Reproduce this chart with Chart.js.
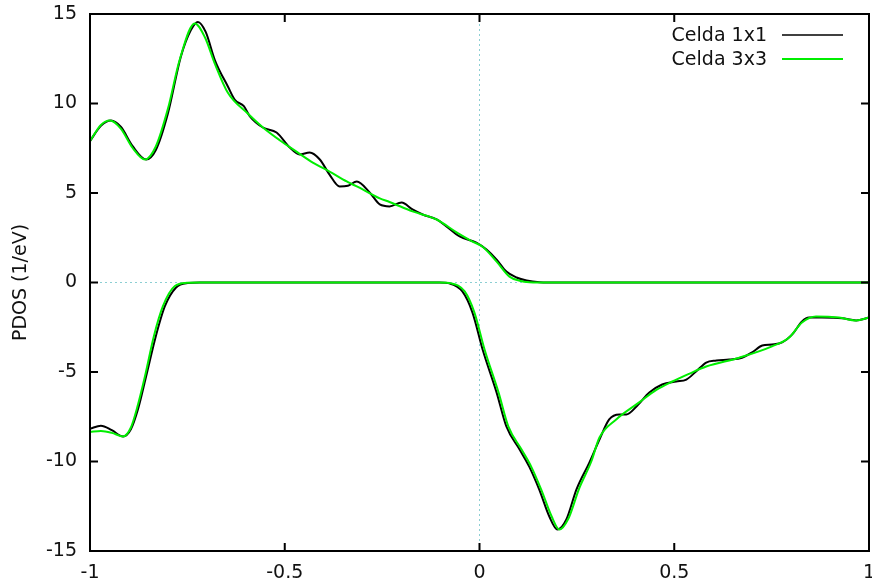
<!DOCTYPE html>
<html>
<head>
<meta charset="utf-8">
<script src="https://cdn.jsdelivr.net/npm/chart.js@4.4.0/dist/chart.umd.min.js"></script>
<style>
  html, body { margin: 0; padding: 0; background: #fff; }
  canvas { display: block; }
</style>
</head>
<body>
<canvas id="pdos" width="872" height="587"></canvas>
<script>
// energy (eV) and PDOS (1/eV), spin up / spin down
const e1x1Up = [-1.000, -0.972, -0.946, -0.921, -0.890, -0.856, -0.831, -0.800, -0.767, -0.741, -0.723, -0.703, -0.679, -0.646, -0.628, -0.605, -0.590, -0.556, -0.521, -0.487, -0.462, -0.436, -0.410, -0.385, -0.359, -0.338, -0.315, -0.282, -0.256, -0.231, -0.200, -0.172, -0.146, -0.110, -0.085, -0.051, -0.008, 0.018, 0.044, 0.069, 0.095, 0.121, 0.154, 0.205, 0.400, 0.700, 1.000];
const pdos1x1Up = [7.9, 8.75, 9.05, 8.7, 7.6, 6.87, 7.4, 9.44, 12.6, 14.1, 14.56, 14.0, 12.4, 10.95, 10.2, 9.85, 9.3, 8.66, 8.38, 7.54, 7.15, 7.26, 6.87, 6.03, 5.36, 5.4, 5.64, 5.03, 4.36, 4.25, 4.47, 4.08, 3.8, 3.52, 3.13, 2.57, 2.23, 1.84, 1.28, 0.61, 0.28, 0.11, 0.02, 0, 0, 0, 0];

const e1x1Down = [-1.000, -0.972, -0.944, -0.915, -0.895, -0.877, -0.856, -0.831, -0.808, -0.779, -0.749, -0.718, -0.400, -0.103, -0.077, -0.044, -0.018, 0.008, 0.044, 0.069, 0.103, 0.128, 0.154, 0.179, 0.200, 0.223, 0.249, 0.282, 0.308, 0.333, 0.359, 0.377, 0.403, 0.436, 0.469, 0.505, 0.531, 0.556, 0.582, 0.608, 0.641, 0.674, 0.700, 0.726, 0.751, 0.777, 0.803, 0.828, 0.846, 0.879, 0.931, 0.967, 1.000];
const pdos1x1Down = [-8.17, -8.0, -8.25, -8.6, -8.2, -7.1, -5.25, -3.0, -1.34, -0.28, -0.03, 0, 0, 0, -0.05, -0.5, -1.68, -3.74, -6.15, -8.04, -9.33, -10.3, -11.6, -13.06, -13.8, -13.24, -11.56, -10.06, -8.77, -7.65, -7.37, -7.37, -6.93, -6.15, -5.7, -5.53, -5.42, -4.97, -4.47, -4.36, -4.3, -4.2, -3.9, -3.52, -3.46, -3.35, -2.9, -2.18, -1.96, -1.96, -2.0, -2.12, -1.96];

const e3x3Up = [-1.000, -0.972, -0.949, -0.921, -0.890, -0.859, -0.831, -0.800, -0.769, -0.731, -0.705, -0.679, -0.646, -0.595, -0.556, -0.513, -0.469, -0.428, -0.385, -0.341, -0.300, -0.256, -0.231, -0.172, -0.110, -0.059, -0.018, 0.008, 0.044, 0.077, 0.103, 0.128, 0.179, 0.400, 0.700, 1.000];
const pdos3x3Up = [7.9, 8.8, 9.05, 8.6, 7.5, 6.87, 7.6, 9.7, 12.5, 14.47, 13.7, 12.2, 10.6, 9.44, 8.66, 7.95, 7.3, 6.7, 6.2, 5.65, 5.2, 4.7, 4.5, 3.97, 3.52, 2.8, 2.29, 2.0, 1.17, 0.33, 0.1, 0.02, 0, 0, 0, 0];

const e3x3Down = [-1.000, -0.972, -0.944, -0.915, -0.895, -0.879, -0.859, -0.836, -0.813, -0.782, -0.751, -0.718, -0.400, -0.103, -0.072, -0.038, -0.013, 0.013, 0.049, 0.074, 0.108, 0.133, 0.159, 0.185, 0.205, 0.228, 0.256, 0.287, 0.308, 0.351, 0.410, 0.454, 0.495, 0.538, 0.582, 0.667, 0.751, 0.795, 0.828, 0.864, 0.923, 0.967, 1.000];
const pdos3x3Down = [-8.35, -8.3, -8.4, -8.6, -8.1, -7.0, -5.25, -3.0, -1.34, -0.2, -0.02, 0, 0, 0, -0.05, -0.5, -1.68, -3.74, -6.15, -8.04, -9.33, -10.3, -11.6, -13.06, -13.8, -13.2, -11.5, -10.0, -8.66, -7.65, -6.7, -6.0, -5.53, -5.1, -4.69, -4.2, -3.57, -3.07, -2.23, -1.9, -1.96, -2.12, -1.96];

const seriesNames = ["Celda 1x1", "Celda 3x3"];
const seriesColors = ["#000000", "#00ee00"];
const xTicks = [-1, -0.5, 0, 0.5, 1];
const yTicks = [-15, -10, -5, 0, 5, 10, 15];

const FONT = { family: "'DejaVu Sans', sans-serif", size: 19 };

function points(xs, ys) {
  return xs.map(function (x, i) { return { x: x, y: ys[i] }; });
}

function curve(xs, ys, s) {
  return {
    label: seriesNames[s],
    data: points(xs, ys),
    borderColor: seriesColors[s],
    borderWidth: 2,
    pointRadius: 0,
    fill: false,
    cubicInterpolationMode: "monotone",
    order: s === 0 ? 1 : 0, // green drawn on top
  };
}

// gnuplot style frame with inward ticks and key inside the plot
const framePlugin = {
  id: "frame",
  afterDatasetsDraw(chart) {
    const ctx = chart.ctx;
    const a = chart.chartArea;
    const sx = chart.scales.x, sy = chart.scales.y;
    ctx.save();
    ctx.strokeStyle = "#000";
    ctx.lineWidth = 2;
    ctx.strokeRect(a.left, a.top, a.right - a.left, a.bottom - a.top);
    ctx.beginPath();
    sx.ticks.forEach(function (t) {
      const px = sx.getPixelForValue(t.value);
      ctx.moveTo(px, a.bottom); ctx.lineTo(px, a.bottom - 8);
      ctx.moveTo(px, a.top); ctx.lineTo(px, a.top + 8);
    });
    sy.ticks.forEach(function (t) {
      const py = sy.getPixelForValue(t.value);
      ctx.moveTo(a.left, py); ctx.lineTo(a.left + 8, py);
      ctx.moveTo(a.right, py); ctx.lineTo(a.right - 8, py);
    });
    ctx.stroke();

    // key
    ctx.font = FONT.size + "px " + FONT.family;
    ctx.textAlign = "right";
    ctx.textBaseline = "middle";
    seriesNames.forEach(function (name, i) {
      const y = a.top + 22 + i * 24;
      ctx.fillStyle = "#111";
      ctx.fillText(name, a.right - 102, y);
      ctx.strokeStyle = seriesColors[i];
      ctx.lineWidth = i === 0 ? 1.5 : 2;
      ctx.beginPath();
      ctx.moveTo(a.right - 87, y - 1);
      ctx.lineTo(a.right - 26, y - 1);
      ctx.stroke();
    });
    ctx.restore();
  },
};

const zeroGrid = {
  display: true,
  drawTicks: false,
  lineWidth: 1,
  color: function (c) { return c.tick && c.tick.value === 0 ? "#8ccfd3" : "rgba(0,0,0,0)"; },
};

function plainLabel(v) { return String(v); }

new Chart(document.getElementById("pdos").getContext("2d"), {
  type: "line",
  data: {
    datasets: [
      curve(e1x1Up, pdos1x1Up, 0),
      curve(e1x1Down, pdos1x1Down, 0),
      curve(e3x3Up, pdos3x3Up, 1),
      curve(e3x3Down, pdos3x3Down, 1),
    ],
  },
  options: {
    responsive: false,
    animation: false,
    devicePixelRatio: 1,
    layout: { padding: { top: 14, right: 3, left: 0, bottom: 0 } },
    plugins: { legend: { display: false }, tooltip: { enabled: false } },
    scales: {
      x: {
        type: "linear",
        min: -1,
        max: 1,
        grid: zeroGrid,
        border: { display: false, dash: [2, 3] },
        ticks: { color: "#111", font: FONT, padding: 11, maxRotation: 0, callback: plainLabel },
        afterBuildTicks: function (s) { s.ticks = xTicks.map(function (v) { return { value: v }; }); },
        afterFit: function (s) { s.height = 36; s.paddingLeft = 0; s.paddingRight = 0; },
      },
      y: {
        type: "linear",
        min: -15,
        max: 15,
        grid: zeroGrid,
        border: { display: false, dash: [2, 3] },
        ticks: { color: "#111", font: FONT, padding: 13, callback: plainLabel },
        afterBuildTicks: function (s) { s.ticks = yTicks.map(function (v) { return { value: v }; }); },
        afterFit: function (s) { s.width = 90; s.paddingTop = 0; s.paddingBottom = 0; },
        title: { display: true, text: "PDOS (1/eV)", color: "#111", font: FONT, padding: { top: 10 } },
      },
    },
  },
  plugins: [framePlugin],
});
</script>
</body>
</html>
